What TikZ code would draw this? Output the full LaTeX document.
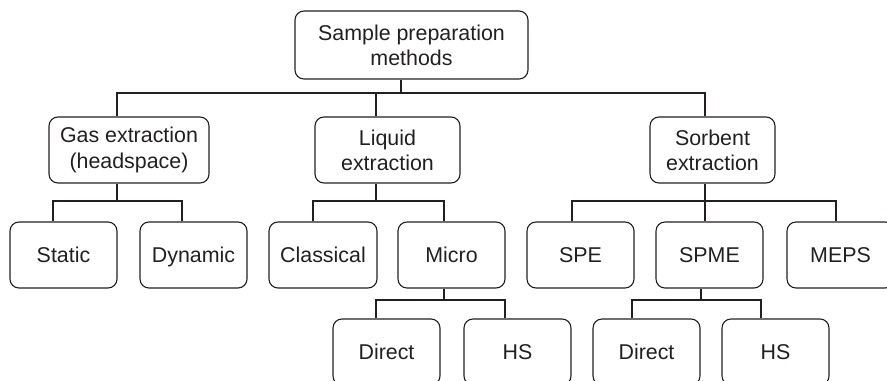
\documentclass[tikz,border=0pt]{standalone}
\usepackage{fontspec}
\setmainfont{Liberation Sans}
\definecolor{ink}{HTML}{231F20}
\begin{document}
\begin{tikzpicture}[x=0.5pt,y=-0.5pt,
  box/.style={draw=ink, line width=0.55pt, rounded corners=4.5pt, align=center, inner sep=0pt,
    font=\fontsize{10.7}{12.6}\selectfont, text=ink},
  link/.style={draw=ink, line width=0.55pt}]
\useasboundingbox (0,0) rectangle (887,380);
\clip (0,0) rectangle (887,380);
% level 1
\node[box, minimum width=116.5pt, minimum height=34pt] (top) at (411.5,45) {Sample preparation\\methods};
% level 2
\node[box, minimum width=80pt, minimum height=33pt] (gas) at (129,150) {Gas extraction\\(headspace)};
\node[box, minimum width=72.5pt, minimum height=33pt] (liq) at (387.5,150) {Liquid\\extraction};
\node[box, minimum width=62.5pt, minimum height=33pt] (sor) at (712.5,150) {Sorbent\\extraction};
% level 3
\tikzset{leaf/.style={box, minimum width=53.5pt, minimum height=33pt, text height=7.6pt, text depth=0.6pt}}
\node[leaf] (static) at (63.5,255) {Static};
\node[leaf] (dynamic) at (193.5,255) {Dynamic};
\node[leaf, minimum width=54pt] (classical) at (323,255) {Classical};
\node[leaf] (micro) at (451.5,255) {Micro};
\node[leaf] (spe) at (580.5,255) {SPE};
\node[leaf] (spme) at (709.5,255) {SPME};
\node[leaf] (meps) at (840.5,255) {MEPS};
% level 4
\node[leaf] (direct1) at (386.5,352) {Direct};
\node[leaf] (hs1) at (517.5,352) {HS};
\node[leaf] (direct2) at (646.5,352) {Direct};
\node[leaf] (hs2) at (775.5,352) {HS};
% connectors level 1 -> 2
\coordinate (bus1) at (401,93);
\draw[link] (top.south -| bus1) -- (bus1);
\draw[link] (gas.north -| 117,0) |- (bus1) -| (sor.north -| 705,0);
\draw[link] (liq.north -| 376,0) -- (376,93);
% gas -> static/dynamic
\draw[link] (gas.south -| 117,0) -- (117,201);
\draw[link] (static.north -| 53,0) |- (117,201) -| (dynamic.north -| 182,0);
% liquid -> classical/micro
\draw[link] (liq.south -| 376,0) -- (376,201);
\draw[link] (classical.north -| 313,0) |- (376,201) -| (micro.north -| 444,0);
% sorbent -> spe/spme/meps
\draw[link] (sor.south -| 705,0) -- (spme.north -| 705,0);
\draw[link] (spe.north -| 572,0) |- (705,201) -| (meps.north -| 836,0);
% micro -> direct/hs
\draw[link] (micro.south -| 444,0) -- (444,300);
\draw[link] (direct1.north -| 376,0) |- (444,300) -| (hs1.north -| 505,0);
% spme -> direct/hs
\draw[link] (spme.south -| 701,0) -- (701,300);
\draw[link] (direct2.north -| 632,0) |- (701,300) -| (hs2.north -| 761,0);
\end{tikzpicture}
\end{document}
